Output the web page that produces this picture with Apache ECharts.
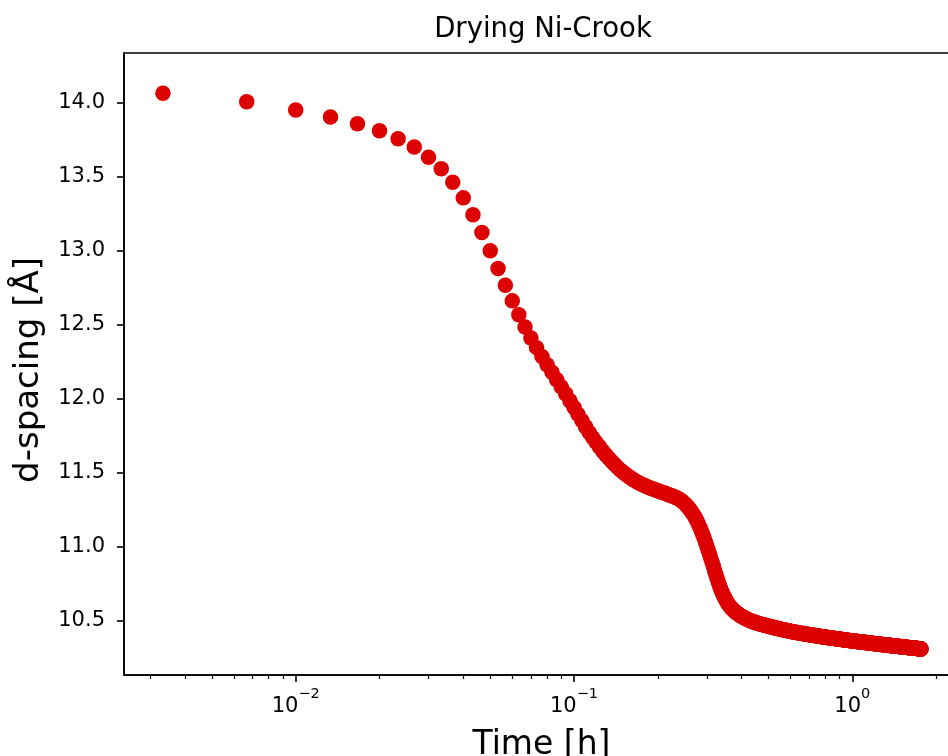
<!DOCTYPE html>
<html>
<head>
<meta charset="utf-8">
<script src="https://cdn.jsdelivr.net/npm/echarts@6/dist/echarts.min.js"></script>
<style>
  html, body { margin: 0; padding: 0; background: #ffffff; }
  #chart { width: 948px; height: 756px; }
</style>
</head>
<body>
<div id="chart"></div>
<script>
// Basal d-spacing of a Ni clay film while it dries, one pattern every 12 s.
const chartTitle = 'Drying Ni-Crook';
const xAxisTitle = 'Time [h]';
const yAxisTitle = 'd-spacing [Å]';

// acquisition interval between successive patterns, in hours
const scanStepHours = 12 / 3600;

// d-spacing [Å] of each successive pattern (pattern 1 at 12 s)
const dSpacing = [
  14.064, 14.007, 13.951, 13.903, 13.858, 13.811, 13.757, 13.701, 13.631, 13.553,
  13.462, 13.357, 13.243, 13.123, 13.000, 12.880, 12.766, 12.661, 12.567, 12.484,
  12.410, 12.345, 12.285, 12.230, 12.178, 12.128, 12.080, 12.033, 11.986, 11.940,
  11.895, 11.852, 11.811, 11.772, 11.737, 11.705, 11.675, 11.647, 11.621, 11.597,
  11.575, 11.555, 11.536, 11.519, 11.503, 11.489, 11.476, 11.464, 11.453, 11.443,
  11.434, 11.426, 11.418, 11.411, 11.405, 11.399, 11.393, 11.388, 11.383, 11.378,
  11.373, 11.368, 11.364, 11.359, 11.355, 11.350, 11.346, 11.341, 11.336, 11.331,
  11.325, 11.318, 11.310, 11.301, 11.291, 11.280, 11.268, 11.255, 11.241, 11.226,
  11.210, 11.192, 11.173, 11.152, 11.130, 11.107, 11.083, 11.058, 11.032, 11.005,
  10.978, 10.950, 10.922, 10.894, 10.866, 10.838, 10.811, 10.785, 10.760, 10.736,
  10.714, 10.694, 10.676, 10.660, 10.645, 10.631, 10.618, 10.607, 10.597, 10.588,
  10.580, 10.572, 10.565, 10.559, 10.553, 10.548, 10.543, 10.538, 10.534, 10.530,
  10.526, 10.522, 10.518, 10.515, 10.512, 10.509, 10.506, 10.503, 10.500, 10.497,
  10.495, 10.493, 10.491, 10.489, 10.487, 10.485, 10.483, 10.481, 10.480, 10.478,
  10.476, 10.475, 10.473, 10.472, 10.470, 10.469, 10.467, 10.466, 10.464, 10.463,
  10.461, 10.460, 10.459, 10.457, 10.456, 10.455, 10.453, 10.452, 10.451, 10.450,
  10.448, 10.447, 10.446, 10.445, 10.444, 10.443, 10.441, 10.440, 10.439, 10.438,
  10.437, 10.436, 10.435, 10.434, 10.433, 10.432, 10.431, 10.430, 10.429, 10.428,
  10.427, 10.426, 10.426, 10.425, 10.424, 10.423, 10.422, 10.421, 10.421, 10.420,
  10.419, 10.418, 10.418, 10.417, 10.416, 10.415, 10.415, 10.414, 10.413, 10.412,
  10.412, 10.411, 10.410, 10.410, 10.409, 10.408, 10.408, 10.407, 10.406, 10.406,
  10.405, 10.404, 10.404, 10.403, 10.403, 10.402, 10.401, 10.401, 10.400, 10.400,
  10.399, 10.398, 10.398, 10.397, 10.397, 10.396, 10.396, 10.395, 10.394, 10.394,
  10.393, 10.393, 10.392, 10.392, 10.391, 10.391, 10.390, 10.390, 10.389, 10.389,
  10.388, 10.388, 10.387, 10.387, 10.386, 10.386, 10.385, 10.385, 10.384, 10.384,
  10.383, 10.383, 10.382, 10.382, 10.381, 10.381, 10.381, 10.380, 10.380, 10.379,
  10.379, 10.378, 10.378, 10.378, 10.377, 10.377, 10.376, 10.376, 10.375, 10.375,
  10.375, 10.374, 10.374, 10.373, 10.373, 10.373, 10.372, 10.372, 10.371, 10.371,
  10.371, 10.370, 10.370, 10.370, 10.369, 10.369, 10.368, 10.368, 10.368, 10.367,
  10.367, 10.367, 10.366, 10.366, 10.365, 10.365, 10.365, 10.364, 10.364, 10.364,
  10.363, 10.363, 10.363, 10.362, 10.362, 10.362, 10.361, 10.361, 10.361, 10.360,
  10.360, 10.360, 10.359, 10.359, 10.359, 10.358, 10.358, 10.358, 10.357, 10.357,
  10.357, 10.356, 10.356, 10.356, 10.356, 10.355, 10.355, 10.355, 10.354, 10.354,
  10.354, 10.353, 10.353, 10.353, 10.352, 10.352, 10.352, 10.352, 10.351, 10.351,
  10.351, 10.350, 10.350, 10.350, 10.350, 10.349, 10.349, 10.349, 10.348, 10.348,
  10.348, 10.348, 10.347, 10.347, 10.347, 10.346, 10.346, 10.346, 10.346, 10.345,
  10.345, 10.345, 10.345, 10.344, 10.344, 10.344, 10.344, 10.343, 10.343, 10.343,
  10.342, 10.342, 10.342, 10.342, 10.341, 10.341, 10.341, 10.341, 10.340, 10.340,
  10.340, 10.340, 10.339, 10.339, 10.339, 10.339, 10.338, 10.338, 10.338, 10.338,
  10.337, 10.337, 10.337, 10.337, 10.336, 10.336, 10.336, 10.336, 10.335, 10.335,
  10.335, 10.335, 10.334, 10.334, 10.334, 10.334, 10.334, 10.333, 10.333, 10.333,
  10.333, 10.332, 10.332, 10.332, 10.332, 10.331, 10.331, 10.331, 10.331, 10.331,
  10.330, 10.330, 10.330, 10.330, 10.329, 10.329, 10.329, 10.329, 10.329, 10.328,
  10.328, 10.328, 10.328, 10.327, 10.327, 10.327, 10.327, 10.327, 10.326, 10.326,
  10.326, 10.326, 10.325, 10.325, 10.325, 10.325, 10.325, 10.324, 10.324, 10.324,
  10.324, 10.324, 10.323, 10.323, 10.323, 10.323, 10.323, 10.322, 10.322, 10.322,
  10.322, 10.322, 10.321, 10.321, 10.321, 10.321, 10.321, 10.320, 10.320, 10.320,
  10.320, 10.320, 10.319, 10.319, 10.319, 10.319, 10.319, 10.318, 10.318, 10.318,
  10.318, 10.318, 10.318, 10.317, 10.317, 10.317, 10.317, 10.317, 10.316, 10.316,
  10.316, 10.316, 10.316, 10.315, 10.315, 10.315, 10.315, 10.315, 10.315, 10.314,
  10.314, 10.314, 10.314, 10.314, 10.313, 10.313, 10.313, 10.313, 10.313, 10.313,
  10.312, 10.312, 10.312, 10.312, 10.312, 10.311, 10.311, 10.311, 10.311, 10.311,
  10.311, 10.310, 10.310, 10.310, 10.310, 10.310, 10.309, 10.309, 10.309, 10.309
];

// axis ranges and tick positions
const xRange = [0.0024155, 2.417];
const yRange = [10.1331, 14.3358];
const xMajorTicks = [0.01, 0.1, 1];
const xMinorTicks = [0.003, 0.004, 0.005, 0.006, 0.007, 0.008, 0.009,
                     0.02, 0.03, 0.04, 0.05, 0.06, 0.07, 0.08, 0.09,
                     0.2, 0.3, 0.4, 0.5, 0.6, 0.7, 0.8, 0.9, 2];
const yTicks = [10.5, 11.0, 11.5, 12.0, 12.5, 13.0, 13.5, 14.0];

const points = dSpacing.map((d, i) => [(i + 1) * scanStepHours, d]);

const FONT = 'DejaVu Sans';
const INK = '#000000';
const MARKER = '#dd0000';

function powerOfTenLabel(v) {
  const e = Math.round(Math.log10(v));
  const exp = (e < 0 ? '\u2212' : '') + Math.abs(e);
  return '{b|10}{s|' + exp + '}';
}

const chart = echarts.init(document.getElementById('chart'), null, { renderer: 'canvas' });

chart.setOption({
  animation: false,
  backgroundColor: '#ffffff',
  title: {
    text: chartTitle,
    left: 538,
    top: 11,
    textAlign: 'center',
    textStyle: { fontFamily: FONT, fontSize: 27.5, fontWeight: 'normal', color: INK }
  },
  // vertical axis title, centred a little below the plot middle
  graphic: [{
    type: 'text',
    x: 29,
    y: 370,
    rotation: Math.PI / 2,
    style: {
      text: yAxisTitle,
      font: '34px "DejaVu Sans"',
      fill: INK,
      align: 'center',
      verticalAlign: 'middle'
    }
  }],
  grid: {
    left: 124, top: 53, width: 835, height: 622,
    outerBoundsMode: 'none',
    containLabel: false,
    show: true, borderColor: INK, borderWidth: 1.6, backgroundColor: 'transparent'
  },
  xAxis: [
    {
      type: 'log', logBase: 10, min: xRange[0], max: xRange[1],
      position: 'bottom',
      name: xAxisTitle, nameLocation: 'middle', nameGap: 54,
      nameTextStyle: { fontFamily: FONT, fontSize: 33, color: INK },
      axisLine: { show: true, lineStyle: { color: INK, width: 1.6 } },
      axisTick: { show: true, customValues: xMajorTicks, length: 7, lineStyle: { color: INK, width: 1.6 } },
      axisLabel: {
        show: true, customValues: xMajorTicks, margin: 12,
        formatter: powerOfTenLabel,
        rich: {
          b: { fontFamily: FONT, fontSize: 21, color: INK, lineHeight: 30, verticalAlign: 'bottom' },
          s: { fontFamily: FONT, fontSize: 14.5, color: INK, lineHeight: 30, verticalAlign: 'top' }
        }
      },
      splitLine: { show: false },
      minorTick: { show: false }
    },
    {
      type: 'log', logBase: 10, min: xRange[0], max: xRange[1],
      position: 'bottom', gridIndex: 0,
      axisLine: { show: false },
      axisTick: { show: true, customValues: xMinorTicks, length: 4, lineStyle: { color: INK, width: 1.2 } },
      axisLabel: { show: false },
      splitLine: { show: false }
    }
  ],
  yAxis: {
    type: 'value', min: yRange[0], max: yRange[1],
    axisLine: { show: true, lineStyle: { color: INK, width: 1.6 } },
    axisTick: { show: true, customValues: yTicks, length: 7, lineStyle: { color: INK, width: 1.6 } },
    axisLabel: {
      show: true, customValues: yTicks, margin: 19,
      formatter: v => v.toFixed(1),
      fontFamily: FONT, fontSize: 21, color: INK
    },
    splitLine: { show: false }
  },
  series: [{
    type: 'scatter',
    data: points,
    symbol: 'circle',
    symbolSize: 15.5,
    itemStyle: { color: MARKER, opacity: 1 },
    progressive: 0,
    large: false,
    clip: false
  }]
});
</script>
</body>
</html>
